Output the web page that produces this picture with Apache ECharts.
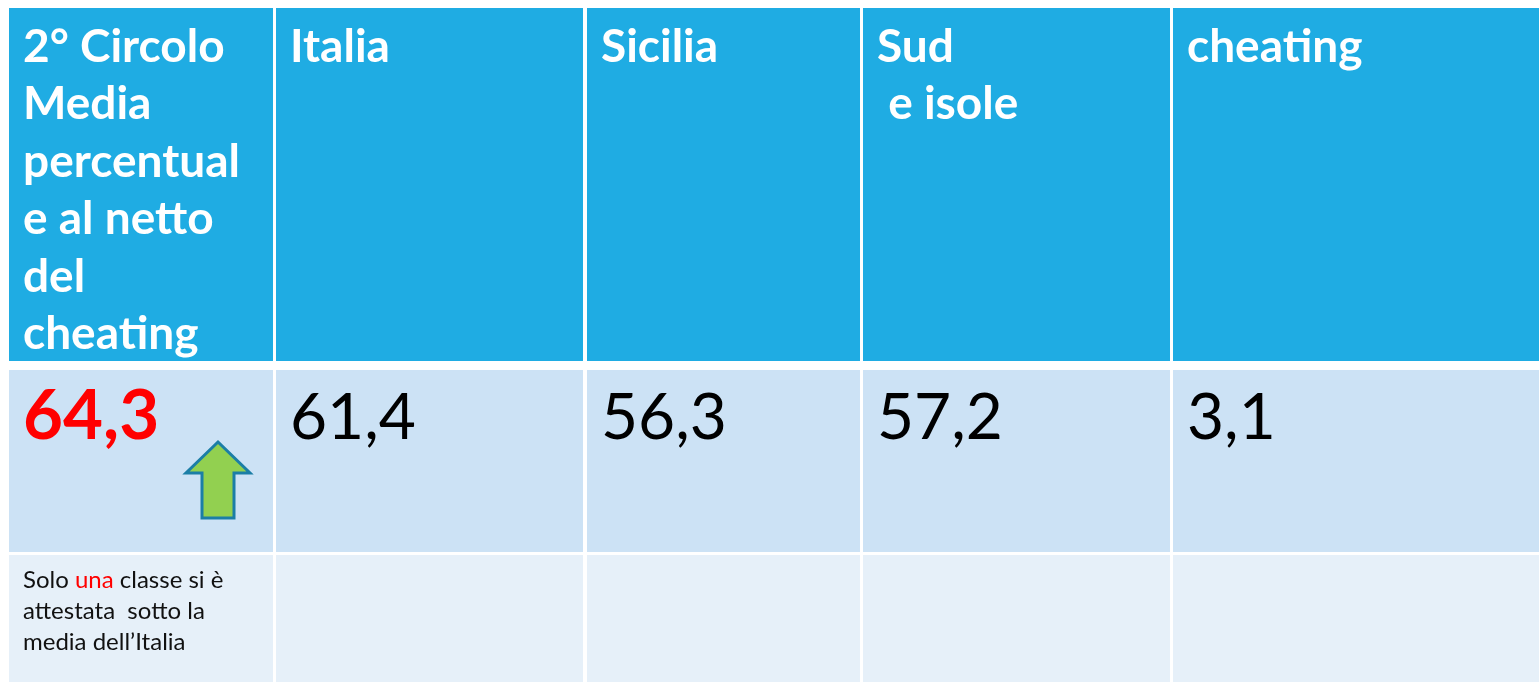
<!DOCTYPE html>
<html>
<head>
<meta charset="utf-8">
<script src="https://cdn.jsdelivr.net/npm/echarts@6/dist/echarts.min.js"></script>
<style>
  html, body { margin: 0; padding: 0; background: #fff; }
  #table-chart { width: 1539px; height: 682px; }
</style>
</head>
<body>
<div id="table-chart"></div>
<script>
// dati della tabella
const headers = ['2° Circolo\nMedia\npercentual\ne al netto\ndel\ncheating', 'Italia', 'Sicilia', 'Sud\n e isole', 'cheating'];
const values = [64.3, 61.4, 56.3, 57.2, 3.1];
const notes = ['Solo una classe si è\nattestata  sotto la\nmedia dell’Italia', '', '', '', ''];
const highlightWord = 'una';

// layout (pixel)
const colStarts = [9, 276, 587, 863, 1173];
const colEnds = [273, 583, 860, 1170, 1539];
const rowStarts = [8, 370, 555];
const rowEnds = [361, 552, 682];
const rowColors = ['#1FACE3', '#CCE2F5', '#E6F0F9'];

!(function (window) {
    const { echarts } = window;
    const chart = echarts.init(document.getElementById('table-chart'));

    const cells = [];
    for (let r = 0; r < 3; r++) {
        for (let c = 0; c < headers.length; c++) {
            cells.push([c, r]);
        }
    }

    const fmt = v => v.toFixed(1).replace('.', ',');

    const cellText = (col, row) => {
        if (row === 0) {
            return {
                text: headers[col],
                fill: '#fff',
                fontFamily: 'Lato',
                fontWeight: 'bold',
                fontSize: 46,
                lineHeight: 57.5,
            };
        }
        if (row === 1) {
            return {
                text: fmt(values[col]),
                fill: col === 0 ? '#FF0000' : '#000',
                fontFamily: 'Lato',
                fontWeight: col === 0 ? 'bold' : 'normal',
                fontSize: col === 0 ? 69 : 64,
            };
        }
        return {
            text: notes[col].replace(highlightWord, `{r|${highlightWord}}`),
            fill: '#111',
            fontFamily: 'Lato',
            fontSize: 24,
            lineHeight: 31,
            rich: {
                r: { fill: '#FF0000', fontFamily: 'Lato', fontSize: 24, lineHeight: 31 },
            },
        };
    };

    const textOffsetY = [10, 16, 10];
    const textOffsetYRed = 12;

    const renderItem = (params, api) => {
        const col = api.value(0);
        const row = api.value(1);
        const p0 = api.coord([colStarts[col], rowStarts[row]]);
        const p1 = api.coord([colEnds[col], rowEnds[row]]);
        const dy = (row === 1 && col === 0) ? textOffsetYRed : textOffsetY[row];
        const children = [
            {
                type: 'rect',
                shape: { x: p0[0], y: p0[1], width: p1[0] - p0[0], height: p1[1] - p0[1] },
                style: { fill: rowColors[row] },
            },
            {
                type: 'text',
                x: p0[0] + 14,
                y: p0[1] + dy,
                style: Object.assign({ textAlign: 'left', textVerticalAlign: 'top' }, cellText(col, row)),
            },
        ];
        // freccia verde nella cella del circolo
        if (row === 1 && col === 0) {
            const ox = p0[0];
            const oy = p0[1];
            children.push({
                type: 'polygon',
                shape: {
                    points: [
                        [ox + 209, oy + 72], [ox + 241, oy + 103], [ox + 225, oy + 103],
                        [ox + 225, oy + 148], [ox + 193, oy + 148], [ox + 193, oy + 103],
                        [ox + 177, oy + 103],
                    ],
                },
                style: { fill: '#92D050', stroke: '#1B7EA6', lineWidth: 3 },
            });
        }
        return { type: 'group', children };
    };

    chart.setOption({
        animation: false,
        grid: { left: 0, right: 0, top: 0, bottom: 0 },
        xAxis: { type: 'value', min: 0, max: 1539, show: false },
        yAxis: { type: 'value', min: 0, max: 682, inverse: true, show: false },
        series: [{
            type: 'custom',
            renderItem,
            data: cells,
            silent: true,
        }],
    });
}(window));
</script>
</body>
</html>
